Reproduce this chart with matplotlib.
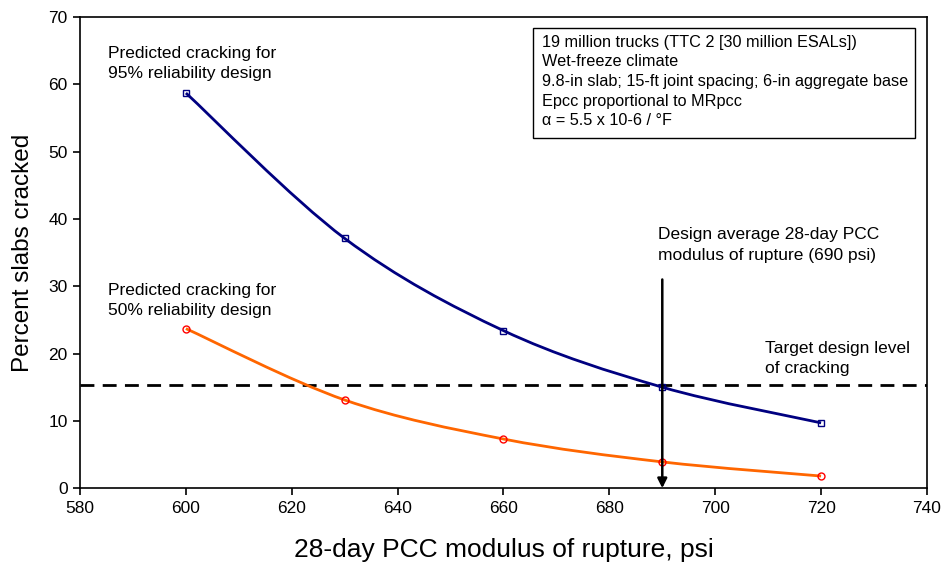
import numpy as np
import matplotlib.pyplot as plt
from matplotlib.path import Path
from matplotlib.patches import PathPatch, Rectangle

plt.rcParams["font.family"] = ["Liberation Sans", "DejaVu Sans"]

# data
mr_psi = [600, 630, 660, 690, 720]
crack_95 = [58.7, 37.1, 23.4, 15.0, 9.7]
crack_50 = [23.7, 13.1, 7.3, 3.9, 1.8]
target_level = 15.3
design_mr = 690

box_lines = [
    "19 million trucks (TTC 2 [30 million ESALs])",
    "Wet-freeze climate",
    "9.8-in slab; 15-ft joint spacing; 6-in aggregate base",
    "Epcc proportional to MRpcc",
    "\u03b1 = 5.5 x 10-6 / \u00b0F",
]


def smooth_path(xs, ys, t=1 / 6):
    # Excel-style smoothed line: Bezier segments with Catmull-Rom handles
    xs = np.asarray(xs, float)
    ys = np.asarray(ys, float)
    n = len(xs)
    verts = [(xs[0], ys[0])]
    codes = [Path.MOVETO]
    for i in range(n - 1):
        p0 = (xs[max(i - 1, 0)], ys[max(i - 1, 0)])
        p1 = (xs[i], ys[i])
        p2 = (xs[i + 1], ys[i + 1])
        p3 = (xs[min(i + 2, n - 1)], ys[min(i + 2, n - 1)])
        c1 = (p1[0] + (p2[0] - p0[0]) * t, p1[1] + (p2[1] - p0[1]) * t)
        c2 = (p2[0] - (p3[0] - p1[0]) * t, p2[1] - (p3[1] - p1[1]) * t)
        verts += [c1, c2, p2]
        codes += [Path.CURVE4] * 3
    return Path(verts, codes)


fig = plt.figure(figsize=(9.42, 5.65), dpi=100)
ax = fig.add_axes([0.085, 0.136, 0.899, 0.834])

ax.add_patch(PathPatch(smooth_path(mr_psi, crack_95), fill=False,
                       edgecolor="#000080", lw=2, zorder=3))
ax.add_patch(PathPatch(smooth_path(mr_psi, crack_50), fill=False,
                       edgecolor="#FF6600", lw=2, zorder=3))
ax.plot(mr_psi, crack_95, ls="none", marker="s", ms=5, mfc="none",
        mec="#000080", mew=1, zorder=4)
ax.plot(mr_psi, crack_50, ls="none", marker="o", ms=5, mfc="none",
        mec="red", mew=1, zorder=4)

ax.axhline(target_level, color="black", lw=2, ls=(0, (5, 3)), zorder=2)
ax.annotate("", xy=(design_mr, 0), xytext=(design_mr, 31),
            arrowprops=dict(arrowstyle="-|>", color="black", lw=1.8,
                            mutation_scale=14, shrinkA=0, shrinkB=0),
            zorder=5)

note_kw = dict(fontsize=12.5, va="center", linespacing=1.45)
ax.text(585.2, 63.1, "Predicted cracking for\n95% reliability design", **note_kw)
ax.text(585.2, 27.9, "Predicted cracking for\n50% reliability design", **note_kw)
ax.text(689.2, 36.1, "Design average 28-day PCC\nmodulus of rupture (690 psi)",
        **note_kw)
ax.text(709.4, 19.3, "Target design level\nof cracking", **note_kw)

ax.add_patch(Rectangle((0.535, 0.743), 0.451, 0.234, transform=ax.transAxes,
                       facecolor="white", edgecolor="black", lw=1, zorder=6))
ax.text(0.545, 0.962, "\n".join(box_lines), transform=ax.transAxes,
        fontsize=11.7, va="top", ha="left", linespacing=1.38, zorder=7)

ax.set_xlim(580, 740)
ax.set_ylim(0, 70)
ax.set_xticks(np.arange(580, 741, 20))
ax.set_yticks(np.arange(0, 71, 10))
ax.tick_params(direction="out", length=5, width=1.2, labelsize=12.5, pad=4)
for s in ax.spines.values():
    s.set_linewidth(1.2)

ax.set_xlabel("28-day PCC modulus of rupture, psi", fontsize=19, labelpad=16)
ax.set_ylabel("Percent slabs cracked", fontsize=17.5, labelpad=10)

fig.savefig("out.png", dpi=100)
